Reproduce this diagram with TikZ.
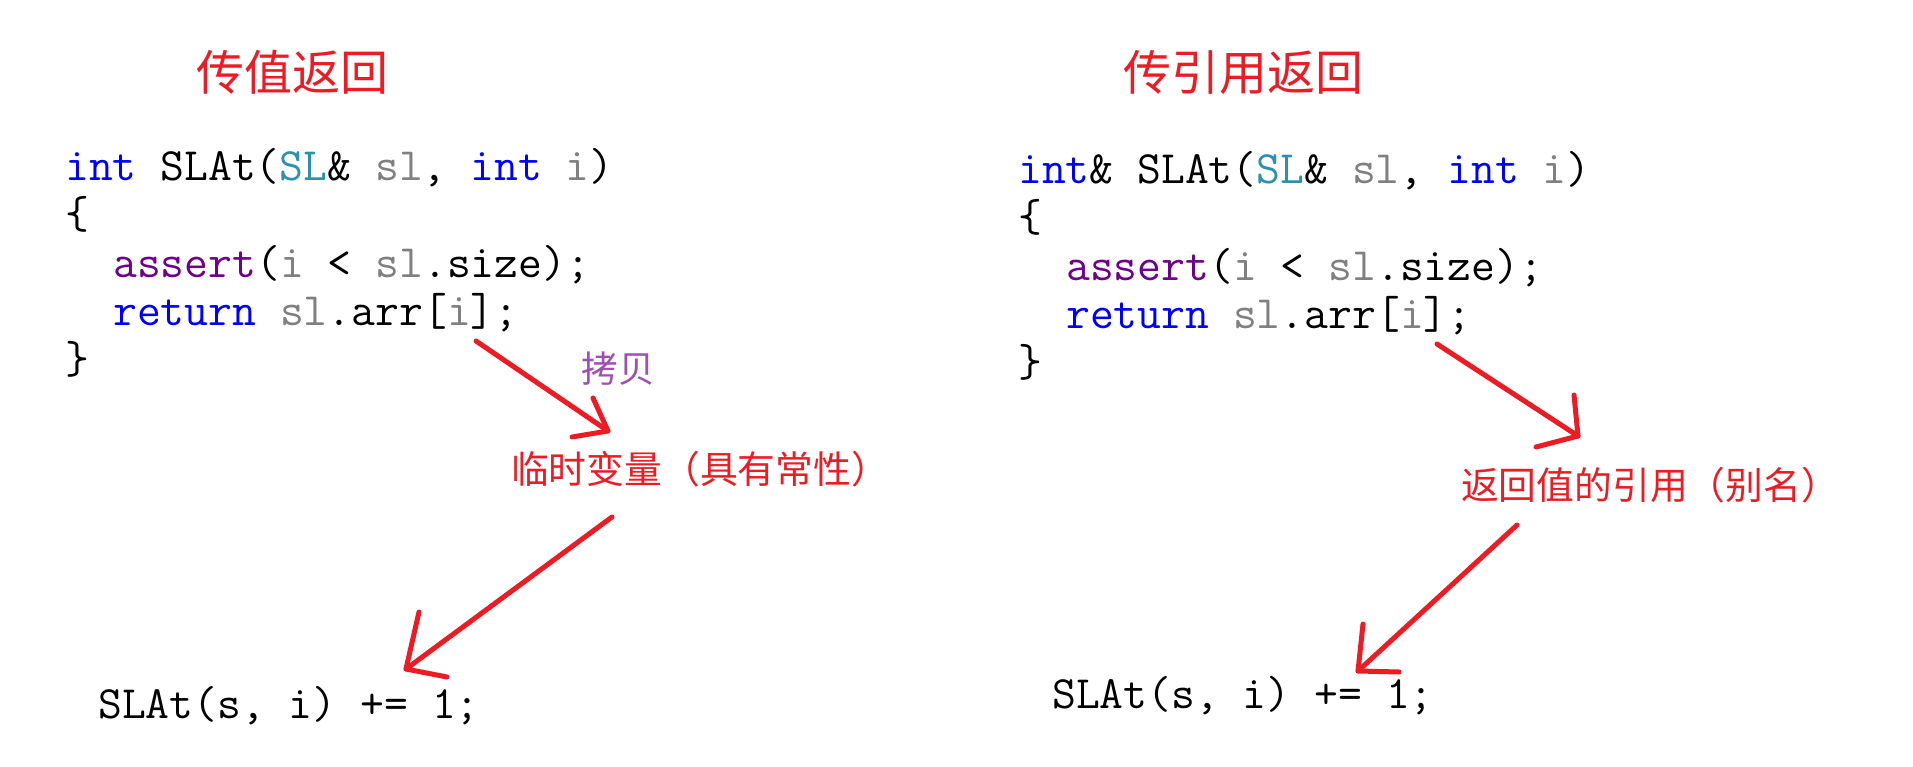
\documentclass[tikz,border=0pt]{standalone}
\usepackage{fontspec}
\newfontfamily\cjk{Noto Sans CJK SC}
\definecolor{kwblue}{RGB}{0,0,255}
\definecolor{tyteal}{RGB}{43,145,175}
\definecolor{idgray}{RGB}{128,128,128}
\definecolor{fnpurple}{RGB}{111,0,138}
\definecolor{penred}{RGB}{237,28,36}
\definecolor{notepurple}{RGB}{160,80,180}
\newcommand\cKw[1]{\textcolor{kwblue}{#1}}
\newcommand\cTy[1]{\textcolor{tyteal}{#1}}
\newcommand\cGr[1]{\textcolor{idgray}{#1}}
\newcommand\cFn[1]{\textcolor{fnpurple}{#1}}
\begin{document}
\begin{tikzpicture}[x=1pt,y=-1pt,
  codeline/.style={anchor=base west,inner sep=0pt,font=\ttfamily\frenchspacing\fontsize{46.3}{50}\selectfont,text=black},
  titletext/.style={inner sep=0pt,font=\cjk\fontsize{48}{56}\selectfont,text=penred},
  notetext/.style={inner sep=0pt,font=\cjk\fontsize{37.8}{44}\selectfont,text=penred},
  copytext/.style={inner sep=0pt,font=\cjk\fontsize{36.5}{42}\selectfont,text=notepurple},
  pen/.style={draw=penred,line width=5pt,line cap=round,line join=round}]
\fill[white] (0,0) rectangle (1913,767);
\useasboundingbox (0,0) rectangle (1913,767);

% titles
\node[titletext] (t1) at (292,72) {传值返回};
\node[titletext] (t2) at (1243,72) {传引用返回};

% left code
\node[codeline] (l1) at (65,181) {\cKw{int} SLAt(\cTy{SL}\& \cGr{sl}, \cKw{int} \cGr{i})};
\node[codeline] (l2) at (65,229) {\{};
\node[codeline] (l3) at (113,277) {\cFn{assert}(\cGr{i} < \cGr{sl}.size);};
\node[codeline] (l4) at (113,325) {\cKw{return} \cGr{sl}.arr[\cGr{i}];};
\node[codeline] (l5) at (65,373) {\}};
\node[codeline] (lc) at (98,718) {SLAt(s, i) += 1;};

% right code
\node[codeline] (r1) at (1018,184) {\cKw{int}\& SLAt(\cTy{SL}\& \cGr{sl}, \cKw{int} \cGr{i})};
\node[codeline] (r2) at (1018,232) {\{};
\node[codeline] (r3) at (1066,280) {\cFn{assert}(\cGr{i} < \cGr{sl}.size);};
\node[codeline] (r4) at (1066,328) {\cKw{return} \cGr{sl}.arr[\cGr{i}];};
\node[codeline] (r5) at (1018,376) {\}};
\node[codeline] (rc) at (1052,708) {SLAt(s, i) += 1;};

% notes
\node[copytext] (cp) at (618,369) {拷贝};
\node[notetext] (tmp) at (700,469) {临时变量（具有常性）};
\node[notetext] (ref) at (1650,485) {返回值的引用（别名）};

% left arrows
\coordinate (a1s) at (476,341);
\coordinate (a1t) at (608,431);
\coordinate (a1b) at (593,398);
\coordinate (a1c) at (572,437);
\draw[pen] (a1s) -- (a1t);
\draw[pen] (a1b) -- (a1t) -- (a1c);

\coordinate (a2s) at (612,517);
\coordinate (a2t) at (406,669);
\coordinate (a2b) at (419,612);
\coordinate (a2c) at (447,677);
\draw[pen] (a2s) -- (a2t);
\draw[pen] (a2b) -- (a2t) -- (a2c);

% right arrows
\coordinate (a3s) at (1437,344);
\coordinate (a3t) at (1578,436);
\coordinate (a3b) at (1574,395);
\coordinate (a3c) at (1536,447);
\draw[pen] (a3s) -- (a3t);
\draw[pen] (a3b) -- (a3t) -- (a3c);

\coordinate (a4s) at (1517,525);
\coordinate (a4t) at (1358,671);
\coordinate (a4b) at (1363,624);
\coordinate (a4c) at (1399,672);
\draw[pen] (a4s) -- (a4t);
\draw[pen] (a4b) -- (a4t) -- (a4c);
\end{tikzpicture}
\end{document}
